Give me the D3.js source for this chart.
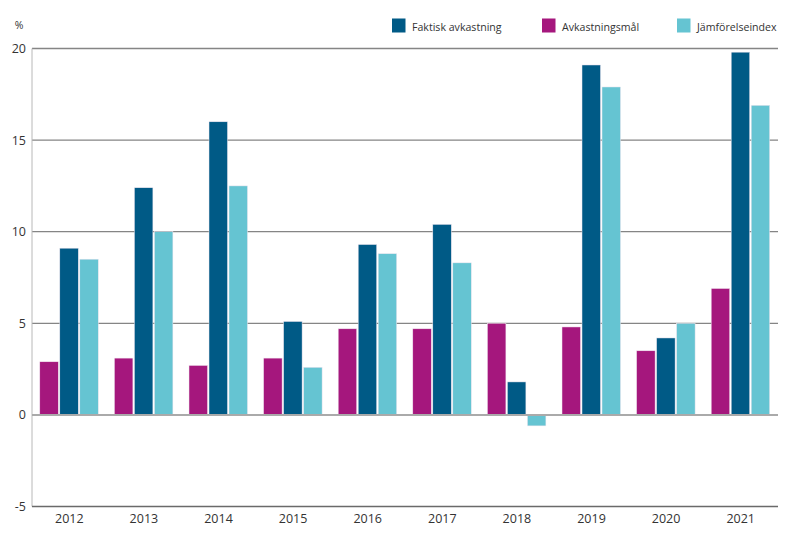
<!DOCTYPE html>
<html><head><meta charset="utf-8">
<script src="https://cdn.jsdelivr.net/npm/d3@7"></script>
<style>body{margin:0;background:#fff}svg{display:block}text{font-family:"Open Sans",sans-serif}</style>
</head><body><svg id="c" width="800" height="534"></svg>
<script>
const years = ["2012","2013","2014","2015","2016","2017","2018","2019","2020","2021"];
const malValues = [2.9,3.1,2.7,3.1,4.7,4.7,5.0,4.8,3.5,6.9];
const faktiskValues = [9.1,12.4,16.0,5.1,9.3,10.4,1.8,19.1,4.2,19.8];
const jamforValues = [8.5,10.0,12.5,2.6,8.8,8.3,-0.6,17.9,5.0,16.9];
const seriesNames = ["Avkastningsmål","Faktisk avkastning","Jämförelseindex"];
const seriesColors = ["#a5177d","#005a86","#65c4d2"];
const yTicks = [-5,0,5,10,15,20];
const legendOrder = [1,0,2];

const svg = d3.select("#c");
const L=32,R=778,T=48.5,B=506.5;
const x = d3.scaleBand().domain(years).range([L,R]).paddingInner(0).paddingOuter(0);
const y = d3.scaleLinear().domain([-5,20]).range([B,T]);
const xs = d3.scaleBand().domain([0,1,2]).range([0,60]).padding(0);
const offset = (x.bandwidth()-60)/2;

// gridlines
svg.append("g").selectAll("line").data(yTicks.filter(d=>d!==0&&d!==-5)).join("line")
  .attr("x1",L).attr("x2",R).attr("y1",d=>y(d)).attr("y2",d=>y(d))
  .attr("stroke","#858585").attr("stroke-width",1.3);
// left axis line
svg.append("line").attr("x1",L).attr("x2",L).attr("y1",T).attr("y2",B).attr("stroke","#b8b8b8").attr("stroke-width",1);
// bottom line
svg.append("line").attr("x1",L).attr("x2",R).attr("y1",y(-5)).attr("y2",y(-5)).attr("stroke","#6a6a6a").attr("stroke-width",1.3);

const data = [malValues,faktiskValues,jamforValues];
const g = svg.append("g");
data.forEach((vals,si)=>{
  g.selectAll(null).data(vals).join("rect")
    .attr("x",(d,i)=>x(years[i])+offset+xs(si)+0.5)
    .attr("width",xs.bandwidth()-1.5)
    .attr("y",d=>y(Math.max(0,d)))
    .attr("height",d=>Math.abs(y(d)-y(0)))
    .attr("fill",seriesColors[si])
    .attr("stroke","#f0e6f0").attr("stroke-width",0.5);
});
// zero line
svg.append("line").attr("x1",L).attr("x2",R).attr("y1",y(0)).attr("y2",y(0)).attr("stroke","#aaaaaa").attr("stroke-width",2);

// y labels
svg.append("g").selectAll("text").data(yTicks).join("text")
  .attr("x",26).attr("y",d=>y(d)+4.5).attr("text-anchor","end")
  .attr("font-size",12.5).attr("fill","#333").text(d=>d===-5?"-5":d);
svg.append("text").attr("x",19).attr("y",29).attr("text-anchor","middle").attr("font-size",10.5).attr("fill","#333").text("%");

// x labels
svg.append("g").selectAll("text").data(years).join("text")
  .attr("x",d=>x(d)+x.bandwidth()/2).attr("y",523).attr("text-anchor","middle")
  .attr("font-size",12.5).attr("fill","#333").text(d=>d);

// legend
const legX=[392,542,677];
legendOrder.forEach((si,k)=>{
  svg.append("rect").attr("x",legX[k]).attr("y",18.5).attr("width",13.5).attr("height",14).attr("fill",seriesColors[si]);
  svg.append("text").attr("x",legX[k]+20).attr("y",30.5).attr("font-size",10.6).attr("fill","#333").text(seriesNames[si]);
});
</script></body></html>
